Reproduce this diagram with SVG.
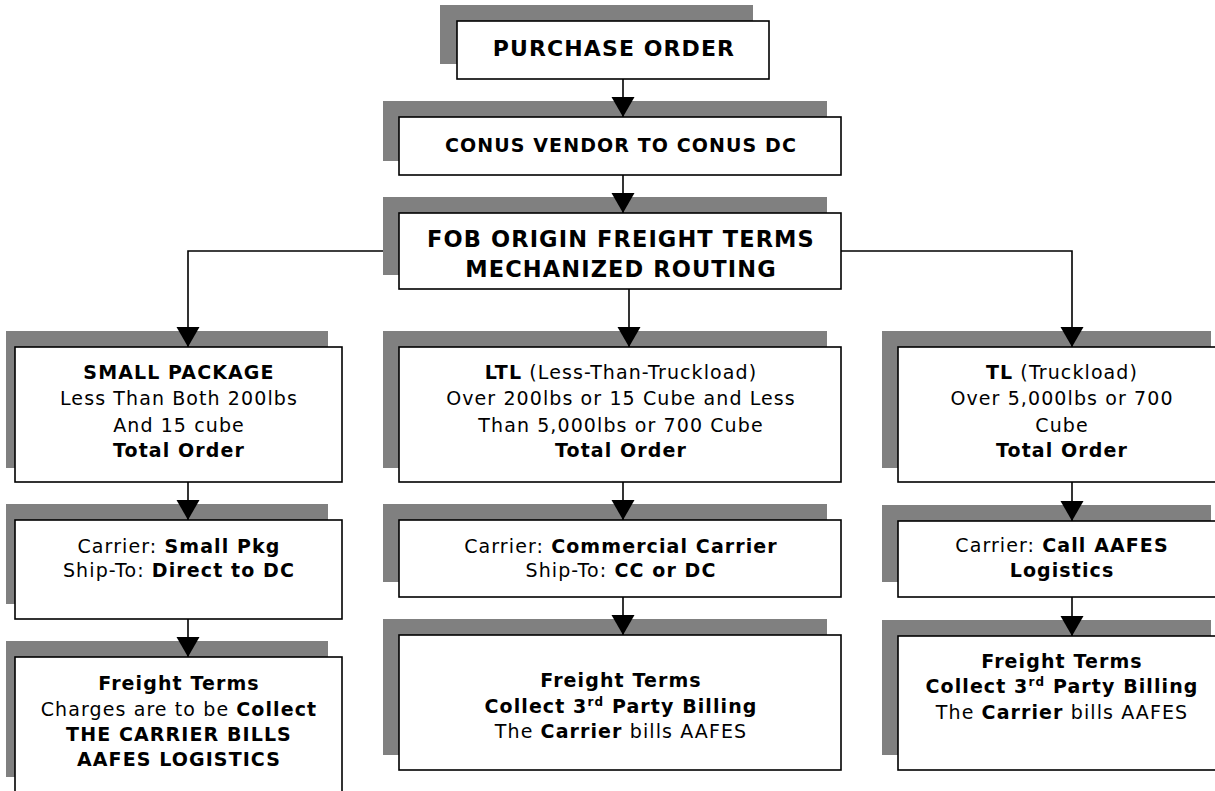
<svg xmlns="http://www.w3.org/2000/svg" width="1215" height="791" viewBox="0 0 1215 791">
<style>
.sh{fill:#808080}
.bx{fill:#fff;stroke:#000;stroke-width:1.6}
.t{font-family:"DejaVu Sans",Verdana,sans-serif;font-size:19px;letter-spacing:1.1px;text-anchor:middle;fill:#000}
.b{font-weight:bold}
.c{fill:none;stroke:#000;stroke-width:1.6}
.sup{font-size:12px}
</style>
<defs>
<marker id="ah" markerUnits="userSpaceOnUse" markerWidth="21" markerHeight="24" refX="20" refY="12" orient="auto" viewBox="0 0 21 24">
<path d="M0,0.5 L20,12 L0,23.5 Z" fill="#000"/>
</marker>
</defs>
<rect width="1215" height="791" fill="#fff"/>

<g id="purchase-order">
<rect class="sh" x="440" y="5" width="313" height="59"/>
<rect class="bx" x="457" y="21" width="312" height="58"/>
<text class="t b" x="614" y="56" style="font-size:22px">PURCHASE ORDER</text>
</g>

<g id="conus">
<rect class="sh" x="383" y="101" width="444" height="60"/>
<rect class="bx" x="399" y="117" width="442" height="58"/>
<text class="t b" x="621" y="152">CONUS VENDOR TO CONUS DC</text>
</g>

<g id="fob">
<rect class="sh" x="383" y="197" width="444" height="78"/>
<rect class="bx" x="399" y="213" width="442" height="76"/>
<text class="t b" x="621" y="247" style="font-size:22.5px">FOB ORIGIN FREIGHT TERMS</text>
<text class="t b" x="621" y="277" style="font-size:22.5px">MECHANIZED ROUTING</text>
</g>

<g id="small-package">
<rect class="sh" x="6" y="331" width="322" height="137"/>
<rect class="bx" x="15" y="347" width="327" height="135"/>
<text class="t b" x="179" y="379">SMALL PACKAGE</text>
<text class="t" x="179" y="405">Less Than Both 200lbs</text>
<text class="t" x="179" y="432">And 15 cube</text>
<text class="t b" x="179" y="457">Total Order</text>
</g>

<g id="small-carrier">
<rect class="sh" x="6" y="504" width="322" height="100"/>
<rect class="bx" x="15" y="520" width="327" height="99"/>
<text class="t" x="179" y="553">Carrier: <tspan class="b">Small Pkg</tspan></text>
<text class="t" x="179" y="577">Ship-To: <tspan class="b">Direct to DC</tspan></text>
</g>

<g id="small-freight">
<rect class="sh" x="6" y="641" width="322" height="136"/>
<rect class="bx" x="15" y="657" width="327" height="140"/>
<text class="t b" x="179" y="690">Freight Terms</text>
<text class="t" x="179" y="716">Charges are to be <tspan class="b">Collect</tspan></text>
<text class="t b" x="179" y="741">THE CARRIER BILLS</text>
<text class="t b" x="179" y="766">AAFES LOGISTICS</text>
</g>

<g id="ltl">
<rect class="sh" x="383" y="331" width="444" height="137"/>
<rect class="bx" x="399" y="347" width="442" height="135"/>
<text class="t" x="621" y="379"><tspan class="b">LTL</tspan> (Less-Than-Truckload)</text>
<text class="t" x="621" y="405">Over 200lbs or 15 Cube and Less</text>
<text class="t" x="621" y="432">Than 5,000lbs or 700 Cube</text>
<text class="t b" x="621" y="457">Total Order</text>
</g>

<g id="ltl-carrier">
<rect class="sh" x="383" y="504" width="444" height="78"/>
<rect class="bx" x="399" y="520" width="442" height="77"/>
<text class="t" x="621" y="553">Carrier: <tspan class="b">Commercial Carrier</tspan></text>
<text class="t" x="621" y="577">Ship-To: <tspan class="b">CC or DC</tspan></text>
</g>

<g id="ltl-freight">
<rect class="sh" x="383" y="619" width="444" height="136"/>
<rect class="bx" x="399" y="635" width="442" height="135"/>
<text class="t b" x="621" y="687">Freight Terms</text>
<text class="t b" x="621" y="713">Collect 3<tspan class="sup" dy="-7">rd</tspan><tspan dy="7"> Party Billing</tspan></text>
<text class="t" x="621" y="738">The <tspan class="b">Carrier</tspan> bills AAFES</text>
</g>

<g id="tl">
<rect class="sh" x="882" y="331" width="329" height="137"/>
<rect class="bx" x="898" y="347" width="330" height="135"/>
<text class="t" x="1062" y="379"><tspan class="b">TL</tspan> (Truckload)</text>
<text class="t" x="1062" y="405">Over 5,000lbs or 700</text>
<text class="t" x="1062" y="432">Cube</text>
<text class="t b" x="1062" y="457">Total Order</text>
</g>

<g id="tl-carrier">
<rect class="sh" x="882" y="505" width="329" height="77"/>
<rect class="bx" x="898" y="521" width="330" height="76"/>
<text class="t" x="1062" y="552">Carrier: <tspan class="b">Call AAFES</tspan></text>
<text class="t b" x="1062" y="577">Logistics</text>
</g>

<g id="tl-freight">
<rect class="sh" x="882" y="620" width="329" height="135"/>
<rect class="bx" x="898" y="636" width="330" height="134"/>
<text class="t b" x="1062" y="668">Freight Terms</text>
<text class="t b" x="1062" y="693">Collect 3<tspan class="sup" dy="-7">rd</tspan><tspan dy="7"> Party Billing</tspan></text>
<text class="t" x="1062" y="719">The <tspan class="b">Carrier</tspan> bills AAFES</text>
</g>

<g id="connectors">
<path class="c" d="M623,79 V117" marker-end="url(#ah)"/>
<path class="c" d="M623,175 V213" marker-end="url(#ah)"/>
<path class="c" d="M629,289 V347" marker-end="url(#ah)"/>
<path class="c" d="M383,251 H188 V347" marker-end="url(#ah)"/>
<path class="c" d="M841,251 H1072 V347" marker-end="url(#ah)"/>
<path class="c" d="M188,482 V520" marker-end="url(#ah)"/>
<path class="c" d="M188,619 V657" marker-end="url(#ah)"/>
<path class="c" d="M623,482 V520" marker-end="url(#ah)"/>
<path class="c" d="M623,597 V635" marker-end="url(#ah)"/>
<path class="c" d="M1072,482 V521" marker-end="url(#ah)"/>
<path class="c" d="M1072,597 V636" marker-end="url(#ah)"/>
</g>
</svg>
